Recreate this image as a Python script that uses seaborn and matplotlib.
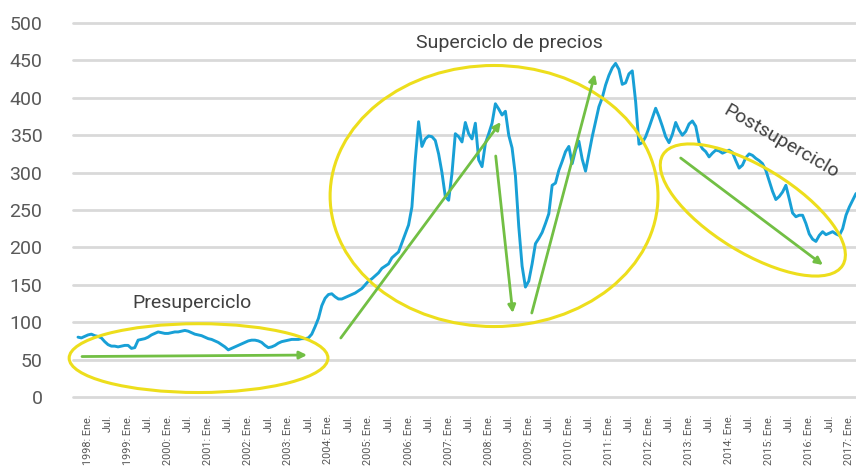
import numpy as np
import pandas as pd
import matplotlib
matplotlib.use("Agg")
import matplotlib.pyplot as plt
import seaborn as sns
from matplotlib.patches import Ellipse, FancyArrowPatch
import matplotlib.transforms as mtransforms

# Monthly index values, Jan 1998 onward
values_1998 = [80, 79, 81, 83, 84, 82, 81, 79, 74, 70, 68, 68]
values_1999 = [67, 68, 69, 69, 65, 66, 76, 77, 78, 80, 83, 85]
values_2000 = [87, 86, 85, 85, 86, 87, 87, 88, 89, 88, 86, 84]
values_2001 = [83, 82, 80, 78, 77, 75, 73, 70, 67, 63, 65, 67]
values_2002 = [69, 71, 73, 75, 76, 76, 75, 73, 69, 66, 67, 69]
values_2003 = [72, 74, 75, 76, 77, 77, 77, 78, 78, 79, 84, 94]
values_2004 = [105, 122, 132, 137, 138, 134, 131, 131, 133, 135, 137, 139]
values_2005 = [142, 145, 150, 155, 158, 162, 166, 172, 175, 178, 186, 190]
values_2006 = [194, 206, 218, 230, 254, 317, 368, 335, 345, 349, 348, 343]
values_2007 = [325, 300, 268, 263, 299, 352, 348, 341, 367, 352, 345, 366]
values_2008 = [317, 308, 339, 352, 366, 392, 385, 377, 382, 350, 333, 296]
values_2009 = [228, 175, 147, 155, 178, 205, 212, 220, 232, 245, 283, 286]
values_2010 = [303, 315, 328, 335, 312, 330, 342, 318, 302, 325, 348, 368]
values_2011 = [388, 400, 417, 430, 440, 446, 438, 418, 420, 432, 436, 395]
values_2012 = [338, 340, 348, 360, 373, 386, 375, 362, 348, 340, 351, 367]
values_2013 = [357, 350, 355, 365, 369, 362, 340, 332, 328, 321, 326, 330]
values_2014 = [329, 326, 328, 330, 327, 316, 306, 310, 320, 325, 323, 319]
values_2015 = [316, 312, 303, 289, 275, 264, 268, 274, 283, 265, 246, 241]
values_2016 = [243, 243, 232, 218, 211, 208, 216, 221, 217, 219, 221, 218]
values_2017 = [216, 225, 243, 254, 263, 272]

values = (values_1998 + values_1999 + values_2000 + values_2001 + values_2002 +
          values_2003 + values_2004 + values_2005 + values_2006 + values_2007 +
          values_2008 + values_2009 + values_2010 + values_2011 + values_2012 +
          values_2013 + values_2014 + values_2015 + values_2016 + values_2017)

label_years = list(range(1998, 2018))
tick_labels = []
for yr in label_years:
    tick_labels += [f"{yr}: Ene.", "Jul."]
tick_labels = tick_labels[:-1]

y_ticks = list(range(0, 501, 50))

sns.set_theme(style="white")
plt.rcParams['font.family'] = ['Roboto', 'DejaVu Sans']

W, H = 856, 471
fig = plt.figure(figsize=(W / 100, H / 100), dpi=100)
ax = fig.add_axes([73 / W, 1 - 397 / H, 1 - 73 / W, (397 - 23) / H])

df = pd.DataFrame({"mes": np.arange(len(values)), "precio": values})
sns.lineplot(data=df, x="mes", y="precio", ax=ax, color="#18A0D6", lw=2.1, zorder=3)

ax.set_xlim(-1.5, 233)
ax.set_ylim(0, 500)
ax.set_yticks(y_ticks)
ax.yaxis.grid(True, color="#d9d9d9", lw=2)
ax.xaxis.grid(False)
for ln in ax.get_ygridlines():
    ln.set_clip_on(False)
for s in ax.spines.values():
    s.set_visible(False)

# x category labels (every 6 months), drawn as text under the axis
ax.set_xticks([])
lab_tr = (mtransforms.blended_transform_factory(ax.transData, ax.transAxes)
          + mtransforms.ScaledTranslation(0.10, -0.17, fig.dpi_scale_trans))
for k, lab in enumerate(tick_labels):
    ax.text(k * 6, 0, lab, transform=lab_tr, rotation=90, ha='center', va='top',
            fontsize=7.8, color="#595959", clip_on=False)

ax.tick_params(axis='y', length=0, pad=22, labelsize=14, labelcolor="#595959")
ax.set_xlabel("")
ax.set_ylabel("")

yellow = "#EDDE1C"
green = "#72BF44"

# Ellipses
ax.add_patch(Ellipse((36.1, 52.0), 77.5, 92.0, fill=False, ec=yellow, lw=2.2, zorder=4, clip_on=False))
ax.add_patch(Ellipse((124.6, 268.7), 98.2, 349.0, fill=False, ec=yellow, lw=2.2, zorder=4, clip_on=False))
tr = fig.dpi_scale_trans + mtransforms.ScaledTranslation(202.1, 250.0, ax.transData)
ax.add_patch(Ellipse((0, 0), 2.11, 0.85, angle=-31.6, fill=False, ec=yellow, lw=2.2,
                     transform=tr, zorder=4, clip_on=False))

# Arrows
arrows = [((1.2, 54.1), (68.6, 56.1)),
          ((78.7, 78.9), (126.6, 367.6)),
          ((125.1, 322.2), (130.2, 112.3)),
          ((135.9, 112.3), (154.8, 431.8)),
          ((180.5, 319.5), (223.1, 176.5))]
for a, b in arrows:
    ax.add_patch(FancyArrowPatch(a, b, arrowstyle='-|>', mutation_scale=11, lw=2.0,
                                 color=green, shrinkA=0, shrinkB=0, zorder=5))

tcol = "#404040"
ax.text(34.0, 125.7, "Presuperciclo", fontsize=14, color=tcol, ha='center', va='center')
ax.text(129.3, 473.3, "Superciclo de precios", fontsize=14, color=tcol, ha='center', va='center')
ax.text(210.7, 341.3, "Postsuperciclo", fontsize=14, color=tcol, ha='center', va='center',
        rotation=-30, rotation_mode='anchor')

fig.savefig("out.png", dpi=100)
